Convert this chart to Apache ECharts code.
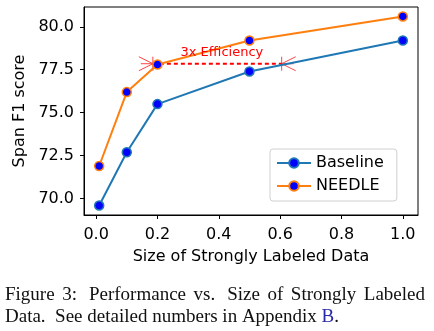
<!DOCTYPE html>
<html>
<head>
<meta charset="utf-8">
<script src="https://cdn.jsdelivr.net/npm/echarts@6/dist/echarts.min.js"></script>
<style>
  html, body { margin: 0; padding: 0; background: #fff; }
  #chart { width: 434px; height: 331px; }
</style>
</head>
<body>
<div id="chart"></div>
<script>
// Fraction of strongly labeled data used for training
const sizes = [0.01, 0.1, 0.2, 0.5, 1.0];
// Span F1 score per data size
const baselineScores = [69.6, 72.7, 75.5, 77.4, 79.2];
const needleScores = [71.9, 76.2, 77.8, 79.2, 80.6];

const xTicks = [0, 0.2, 0.4, 0.6, 0.8, 1.0];
const yTicks = [70, 72.5, 75, 77.5, 80];

// "3x Efficiency" bracket: NEEDLE at 0.2 matches Baseline at ~0.6
const efficiencySpan = [0.185, 0.605];
const efficiencyLevel = 77.85;
const efficiencyLabel = '3x Efficiency';
const efficiencyLabelAt = [0.41, 78.47];

const captionLine1 = ['Figure', '3:', 'Performance', 'vs.', 'Size', 'of', 'Strongly', 'Labeled'];
const captionLine2 = 'Data.  See detailed numbers in Appendix ';
const captionRef = 'B';

const TAB_BLUE = '#1f77b4';
const TAB_ORANGE = '#ff7f0e';
const FONT = '"DejaVu Sans", sans-serif';
const SERIF = '"Liberation Serif", "Times New Roman", serif';

const pairs = (xs, ys) => xs.map((x, i) => [x, ys[i]]);

function lineSeries(name, color, values, z) {
  return {
    name: name,
    type: 'line',
    data: pairs(sizes, values),
    z: z,
    symbol: 'circle',
    symbolSize: 9,
    color: color,
    lineStyle: { color: color, width: 2 },
    itemStyle: { color: '#0000ff', borderColor: color, borderWidth: 1.5 },
    emphasis: { disabled: true }
  };
}

// Caption: first line justified between the margins, second line set naturally
const captionFont = '19px ' + SERIF;
const measureCtx = document.createElement('canvas').getContext('2d');
measureCtx.font = captionFont;
const CAP_LEFT = 5, CAP_RIGHT = 425;
// wider glue after the colon and after "vs."
const glueWeights = [1, 1.6, 1, 1.6, 1, 1, 1];
const wordWidths = captionLine1.map(w => measureCtx.measureText(w).width);
const slack = (CAP_RIGHT - CAP_LEFT) - wordWidths.reduce((a, b) => a + b, 0);
const glueUnit = slack / glueWeights.reduce((a, b) => a + b, 0);

const graphics = [];
let cursor = CAP_LEFT;
captionLine1.forEach((w, i) => {
  graphics.push({ type: 'text', left: cursor, top: 286,
    style: { text: w, font: captionFont, fill: '#111' } });
  cursor += wordWidths[i] + (i < glueWeights.length ? glueWeights[i] * glueUnit : 0);
});
graphics.push({ type: 'text', left: CAP_LEFT, top: 308,
  style: {
    text: captionLine2 + '{ref|' + captionRef + '}.',
    font: captionFont, fill: '#111',
    rich: { ref: { fill: '#2a2aa8', font: captionFont } }
  } });

const chart = echarts.init(document.getElementById('chart'), null, { renderer: 'canvas' });

chart.setOption({
  animation: false,
  backgroundColor: '#fff',
  textStyle: { fontFamily: FONT },
  grid: {
    left: 84, right: 16, top: 7, bottom: 116,
    show: true, borderColor: '#000', borderWidth: 1, backgroundColor: 'transparent'
  },
  xAxis: {
    type: 'value',
    min: -0.0395, max: 1.0495,
    name: 'Size of Strongly Labeled Data',
    nameLocation: 'middle',
    nameGap: 34,
    nameTextStyle: { fontFamily: FONT, fontSize: 16, color: '#000' },
    splitLine: { show: false },
    axisLine: { show: true, onZero: false, lineStyle: { color: '#000', width: 1 } },
    axisTick: { show: true, length: 4, lineStyle: { color: '#000' }, customValues: xTicks },
    axisLabel: {
      customValues: xTicks, margin: 12, fontFamily: FONT, fontSize: 16, color: '#000',
      formatter: v => v.toFixed(1)
    }
  },
  yAxis: {
    type: 'value',
    min: 69.05, max: 81.15,
    name: 'Span F1 score',
    nameLocation: 'middle',
    nameGap: 54,
    nameTextStyle: { fontFamily: FONT, fontSize: 16, color: '#000' },
    splitLine: { show: false },
    axisLine: { show: true, onZero: false, lineStyle: { color: '#000', width: 1 } },
    axisTick: { show: true, length: 4, lineStyle: { color: '#000' }, customValues: yTicks },
    axisLabel: {
      customValues: yTicks, margin: 10, fontFamily: FONT, fontSize: 16, color: '#000',
      formatter: v => v.toFixed(1)
    }
  },
  legend: {
    orient: 'vertical',
    left: 270, top: 149,
    padding: [6, 13, 7, 6],
    itemGap: 7,
    itemWidth: 34,
    itemHeight: 12,
    backgroundColor: '#fff',
    borderColor: '#d0d0d0',
    borderWidth: 1,
    borderRadius: 3,
    textStyle: { fontFamily: FONT, fontSize: 16, color: '#000' },
    data: ['Baseline', 'NEEDLE']
  },
  series: [
    // dashed bracket between the two curves
    {
      name: 'efficiency',
      type: 'line',
      data: pairs(efficiencySpan, [efficiencyLevel, efficiencyLevel]),
      symbol: 'none',
      z: 1,
      lineStyle: { color: '#ff0000', width: 2, type: [4, 3] },
      emphasis: { disabled: true },
      markPoint: {
        symbol: 'circle', symbolSize: 0,
        data: [{ coord: efficiencyLabelAt }],
        label: {
          show: true, formatter: efficiencyLabel, color: '#ff0000',
          fontFamily: FONT, fontSize: 13, position: 'inside'
        }
      }
    },
    // bracket end caps
    {
      name: 'caps',
      type: 'custom',
      z: 1,
      data: [[efficiencySpan[0], efficiencyLevel, -1], [efficiencySpan[1], efficiencyLevel, 1]],
      renderItem: function (params, api) {
        const p = api.coord([api.value(0), api.value(1)]);
        const d = api.value(2);
        const st = { stroke: '#ff3030', lineWidth: 0.9 };
        return {
          type: 'group',
          children: [
            { type: 'line', shape: { x1: p[0], y1: p[1] - 7, x2: p[0], y2: p[1] + 7 }, style: st },
            { type: 'line', shape: { x1: p[0], y1: p[1], x2: p[0] + d * 14, y2: p[1] - 7 }, style: st },
            { type: 'line', shape: { x1: p[0], y1: p[1], x2: p[0] + d * 14, y2: p[1] + 7 }, style: st },
            { type: 'line', shape: { x1: p[0], y1: p[1], x2: p[0] + d * 12, y2: p[1] }, style: st }
          ]
        };
      }
    },
    lineSeries('Baseline', TAB_BLUE, baselineScores, 3),
    lineSeries('NEEDLE', TAB_ORANGE, needleScores, 4)
  ],
  graphic: graphics
});
</script>
</body>
</html>
